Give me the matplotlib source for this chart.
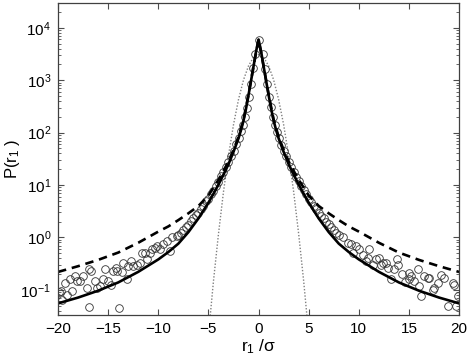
import numpy as np
import matplotlib
matplotlib.use("Agg")
import matplotlib.pyplot as plt
from matplotlib.ticker import LogLocator, NullFormatter

plt.rcParams['font.family'] = ['Liberation Sans', 'DejaVu Sans']
plt.rcParams['mathtext.fontset'] = 'custom'
plt.rcParams['mathtext.rm'] = 'Liberation Sans'
plt.rcParams['mathtext.it'] = 'Liberation Sans:italic'
plt.rcParams['font.size'] = 11

# solid curve
solid_x = [-20, -18, -16, -14, -12, -10, -9, -8, -7, -6, -5, -4.5, -4, -3.5, -3, -2.5, -2,
           -1.75, -1.5, -1.25, -1, -0.75, -0.5, -0.25, 0,
           0.25, 0.5, 0.75, 1, 1.25, 1.5, 1.75, 2, 2.5, 3, 3.5, 4, 4.5, 5, 6, 7, 8, 9, 10,
           12, 14, 16, 18, 20]
solid_p = [0.055, 0.071, 0.096, 0.138, 0.22, 0.38, 0.525, 0.76, 1.26, 2.3, 4.6, 6.8, 10.2, 15.8,
           25, 43, 78, 112, 170, 288, 525, 980, 1860, 3550, 6000,
           3550, 1860, 980, 525, 288, 170, 112, 78, 43, 25, 15.8, 10.2, 6.8, 4.6, 2.3, 1.26,
           0.76, 0.525, 0.38, 0.22, 0.138, 0.096, 0.071, 0.055]

# dashed curve
dash_x = [-20, -18, -16, -14, -12, -10, -9, -8, -7, -6, -5, -4, -3.5, -3, -2.5, -2, -1.5, -1,
          -0.5, 0, 0.5, 1, 1.5, 2, 2.5, 3, 3.5, 4, 5, 6, 7, 8, 9, 10, 12, 14, 16, 18, 20]
dash_p = [0.219, 0.282, 0.372, 0.513, 0.79, 1.29, 1.62, 2.14, 2.88, 3.98, 6.31, 12.6, 18.6,
          28.2, 46.8, 83, 178, 537, 1862, 6000, 1862, 537, 178, 83, 46.8, 28.2, 18.6, 12.6,
          6.31, 3.98, 2.88, 2.14, 1.62, 1.29, 0.79, 0.513, 0.372, 0.282, 0.219]

# dotted gaussian
dot_x = [-5, -4.5, -4, -3.5, -3, -2.5, -2, -1.5, -1, -0.5, 0, 0.5, 1, 1.5, 2, 2.5, 3, 3.5,
         4, 4.5, 5]
dot_p = [0.0138, 0.145, 1.16, 7.4, 36.6, 142, 430, 1020, 1890, 2750, 3090, 2750, 1890, 1020,
         430, 142, 36.6, 7.4, 1.16, 0.145, 0.0138]

# circles (simulation data)
circ_x = [-19.9, -19.7, -19.6, -19.3, -19.1, -18.8, -18.6, -18.3, -18.1, -17.8, -17.5, -17.1,
          -16.9, -16.9, -16.7, -16.3, -16.1, -15.8, -15.5, -15.3, -15.0, -14.7, -14.5, -14.2,
          -14.1, -13.9, -13.6, -13.5, -13.1, -13.0, -12.7, -12.5, -12.1, -11.8, -11.6, -11.3,
          -11.1, -10.8, -10.6, -10.3, -10.1, -9.8, -9.5, -9.1, -8.8, -8.6, -8.1,
          -8.0, -7.75, -7.5, -7.25, -7.0, -6.75, -6.5, -6.25, -6.0, -5.75, -5.5, -5.25, -5.0,
          -4.75, -4.5, -4.25, -4.0, -3.75, -3.5, -3.25, -3.0, -2.75, -2.5, -2.25, -2.0, -1.8,
          -1.6, -1.4, -1.2, -1.0, -0.8, -0.6, -0.4, 0.0,
          0.4, 0.6, 0.8, 1.0, 1.2, 1.4, 1.6, 1.8, 2.0, 2.25, 2.5, 2.75, 3.0, 3.25, 3.5, 3.75,
          4.0, 4.25, 4.5, 4.75, 5.0, 5.25, 5.5, 5.75, 6.0, 6.25, 6.5, 6.75, 7.0, 7.25, 7.5,
          7.75, 8.0,
          8.4, 8.9, 9.2, 9.4, 9.7, 10.0, 10.4, 10.7, 10.9, 11.0, 11.4, 11.7, 12.0, 12.2, 12.4,
          12.7, 12.9, 13.2, 13.5, 13.8, 13.9, 14.3, 14.6, 15.0, 15.0, 15.2, 15.5, 15.9, 16.0,
          16.2, 16.5, 16.9, 17.0, 17.4, 17.5, 17.9, 18.2, 18.5, 18.9, 19.4, 19.5, 19.7, 19.9]
circ_p = [0.089, 0.093, 0.065, 0.135, 0.081, 0.158, 0.093, 0.18, 0.145, 0.145, 0.18, 0.11,
          0.245, 0.046, 0.224, 0.145, 0.11, 0.117, 0.158, 0.245, 0.145, 0.126, 0.224, 0.263,
          0.224, 0.045, 0.22, 0.32, 0.16, 0.28, 0.355, 0.28, 0.30, 0.32, 0.51, 0.51,
          0.38, 0.51, 0.59, 0.63, 0.68, 0.59, 0.74, 0.85, 0.55, 1.0, 1.05,
          1.1, 1.22, 1.38, 1.57, 1.75, 2.05, 2.3, 2.65, 2.9, 3.55, 3.95, 4.85, 5.4,
          6.7, 7.8, 9.6, 11.5, 14.7, 17.6, 22.2, 27.2, 35.8, 44.5, 59.5, 78, 106,
          139, 202, 298, 485, 840, 1680, 3120, 5750,
          3160, 1660, 851, 479, 302, 200, 141, 105, 79, 59, 45, 35.5, 27.5, 21.9, 17.8, 14.5,
          11.7, 9.5, 7.9, 6.6, 5.5, 4.8, 4.0, 3.5, 2.95, 2.6, 2.35, 2.0, 1.78, 1.55, 1.41,
          1.2, 1.12,
          1.0, 0.79, 0.74, 0.51, 0.68, 0.59, 0.47, 0.355, 0.41, 0.59, 0.30, 0.38, 0.41, 0.30,
          0.32, 0.32, 0.263, 0.158, 0.245, 0.38, 0.30, 0.20, 0.141, 0.158, 0.21, 0.18, 0.145,
          0.245, 0.117, 0.076, 0.18, 0.17, 0.17, 0.10, 0.11, 0.135, 0.195, 0.17, 0.048, 0.135,
          0.126, 0.048, 0.076]

fig = plt.figure(figsize=(4.68, 3.6), dpi=100)
ax = fig.add_axes([0.124, 0.125, 0.857, 0.867])

ax.plot(dot_x, dot_p, linestyle=(0, (1, 1.3)), color='0.5', lw=1.0)
ax.plot(circ_x, circ_p, linestyle='none', marker='o', markersize=5.5, markerfacecolor='none',
        markeredgecolor='0.2', markeredgewidth=0.6)
ax.plot(dash_x, dash_p, linestyle=(0, (3.2, 2.2)), color='k', lw=1.9)
ax.plot(solid_x, solid_p, linestyle='-', color='k', lw=1.9)

ax.set_yscale('log')
ax.set_xlim(-20, 20)
ax.set_ylim(0.033, 3.0e4)
ax.set_xticks([-20, -15, -10, -5, 0, 5, 10, 15, 20])
ax.set_xticklabels(['\u221220', '\u221215', '\u221210', '\u22125', '0', '5', '10', '15', '20'])
ax.yaxis.set_major_locator(LogLocator(base=10, numticks=10))
ax.yaxis.set_minor_locator(LogLocator(base=10, subs=np.arange(2, 10), numticks=20))
ax.yaxis.set_minor_formatter(NullFormatter())
ax.tick_params(which='both', direction='in', top=True, right=True, color='0.3')
ax.tick_params(which='major', length=4, labelsize=11, pad=5)
ax.tick_params(which='minor', length=2)
for s in ax.spines.values():
    s.set_color('0.25')
    s.set_linewidth(0.9)

ax.set_xlabel('r$_1$ /\u03c3', fontsize=12.5, labelpad=1)
ax.set_ylabel('P(r$_1$ )', fontsize=12)
ax.yaxis.set_label_coords(-0.09, 0.5)

fig.savefig('out.png', dpi=100)
